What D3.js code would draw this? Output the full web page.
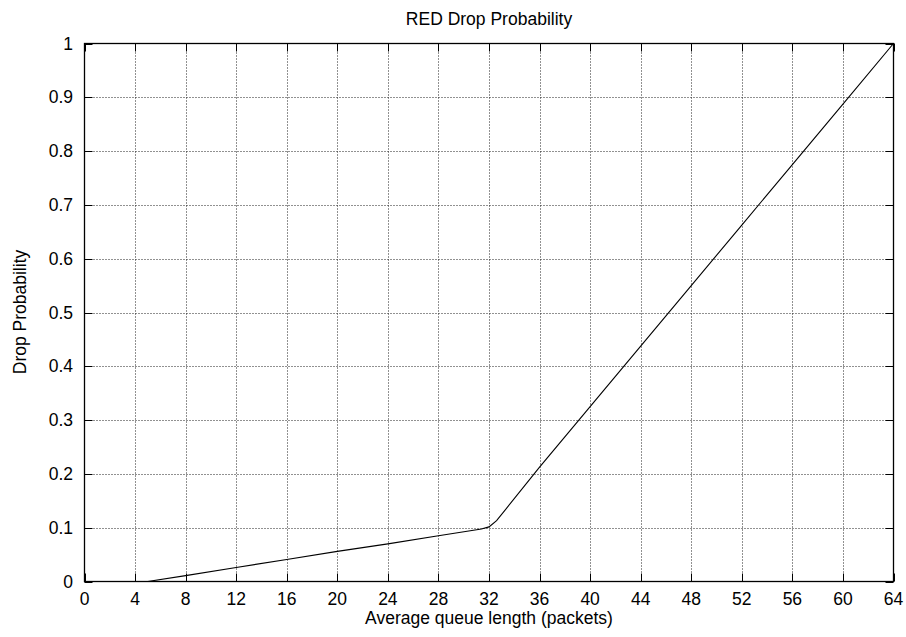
<!DOCTYPE html>
<html>
<head>
<meta charset="utf-8">
<script src="https://cdn.jsdelivr.net/npm/d3@7"></script>
<style>
  html, body { margin: 0; padding: 0; background: #fff; }
  svg { display: block; }
  text { font-family: "Liberation Sans", Arial, Helvetica, sans-serif; fill: #000; }
</style>
</head>
<body>
<svg id="chart" width="906" height="637"></svg>
<script>
// RED drop probability versus average queue length
const queueLength = [0, 4, 5, 8, 12, 16, 20, 24, 28, 31.4, 32, 32.6, 36, 40, 44, 48, 52, 56, 60, 64];
const dropProb    = [0, 0, 0, 0.011, 0.026, 0.041, 0.056, 0.070, 0.085, 0.0975, 0.1015, 0.113, 0.2125, 0.325, 0.4375, 0.55, 0.6625, 0.775, 0.8875, 1];

const xTicks = [0, 4, 8, 12, 16, 20, 24, 28, 32, 36, 40, 44, 48, 52, 56, 60, 64];
const yTicks = [0, 0.1, 0.2, 0.3, 0.4, 0.5, 0.6, 0.7, 0.8, 0.9, 1];

const titleText = "RED Drop Probability";
const xLabelText = "Average queue length (packets)";
const yLabelText = "Drop Probability";

const svg = d3.select("#chart");
const plotLeft = 84.5, plotRight = 893.5, plotTop = 43.5, plotBottom = 581.5;
const fontSize = 17.5;
const tickLen = 8;

const x = d3.scaleLinear().domain([0, 64]).range([plotLeft, plotRight]);
const y = d3.scaleLinear().domain([0, 1]).range([plotBottom, plotTop]);

// dotted grid
const grid = svg.append("g").attr("stroke", "#222").attr("stroke-width", 1).attr("stroke-dasharray", "1,2");
grid.selectAll("line.gx").data(xTicks.slice(1, -1)).join("line")
  .attr("x1", d => Math.round(x(d)) + 0.5).attr("x2", d => Math.round(x(d)) + 0.5)
  .attr("y1", plotTop).attr("y2", plotBottom);
grid.selectAll("line.gy").data(yTicks.slice(1, -1)).join("line")
  .attr("y1", d => Math.round(y(d)) + 0.5).attr("y2", d => Math.round(y(d)) + 0.5)
  .attr("x1", plotLeft).attr("x2", plotRight);

// inward tick marks on all four sides
const ticks = svg.append("g").attr("stroke", "#000").attr("stroke-width", 1);
xTicks.forEach(d => {
  const px = Math.round(x(d)) + 0.5;
  ticks.append("line").attr("x1", px).attr("x2", px).attr("y1", plotBottom).attr("y2", plotBottom - tickLen);
  ticks.append("line").attr("x1", px).attr("x2", px).attr("y1", plotTop).attr("y2", plotTop + tickLen);
});
yTicks.forEach(d => {
  const py = Math.round(y(d)) + 0.5;
  ticks.append("line").attr("x1", plotLeft).attr("x2", plotLeft + tickLen).attr("y1", py).attr("y2", py);
  ticks.append("line").attr("x1", plotRight).attr("x2", plotRight - tickLen).attr("y1", py).attr("y2", py);
});

// data line
const pts = queueLength.map((q, i) => [q, dropProb[i]]);
svg.append("path")
  .datum(pts)
  .attr("fill", "none")
  .attr("stroke", "#000")
  .attr("stroke-width", 1.1)
  .attr("d", d3.line().x(d => x(d[0])).y(d => y(d[1])));

// border
svg.append("rect")
  .attr("x", plotLeft).attr("y", plotTop)
  .attr("width", plotRight - plotLeft).attr("height", plotBottom - plotTop)
  .attr("fill", "none").attr("stroke", "#000").attr("stroke-width", 1.3);

// tick labels
svg.append("g").selectAll("text").data(xTicks).join("text")
  .attr("x", d => x(d)).attr("y", 605)
  .attr("text-anchor", "middle").attr("font-size", fontSize)
  .text(d => d);
svg.append("g").selectAll("text").data(yTicks).join("text")
  .attr("x", 73).attr("y", d => y(d) + 6)
  .attr("text-anchor", "end").attr("font-size", fontSize)
  .text(d => d3.format("~g")(d));

// titles
svg.append("text").attr("x", 489).attr("y", 25)
  .attr("text-anchor", "middle").attr("font-size", fontSize).text(titleText);
svg.append("text").attr("x", 489).attr("y", 624)
  .attr("text-anchor", "middle").attr("font-size", fontSize).text(xLabelText);
svg.append("text")
  .attr("transform", "translate(26,312) rotate(-90)")
  .attr("text-anchor", "middle").attr("font-size", fontSize).text(yLabelText);
</script>
</body>
</html>
